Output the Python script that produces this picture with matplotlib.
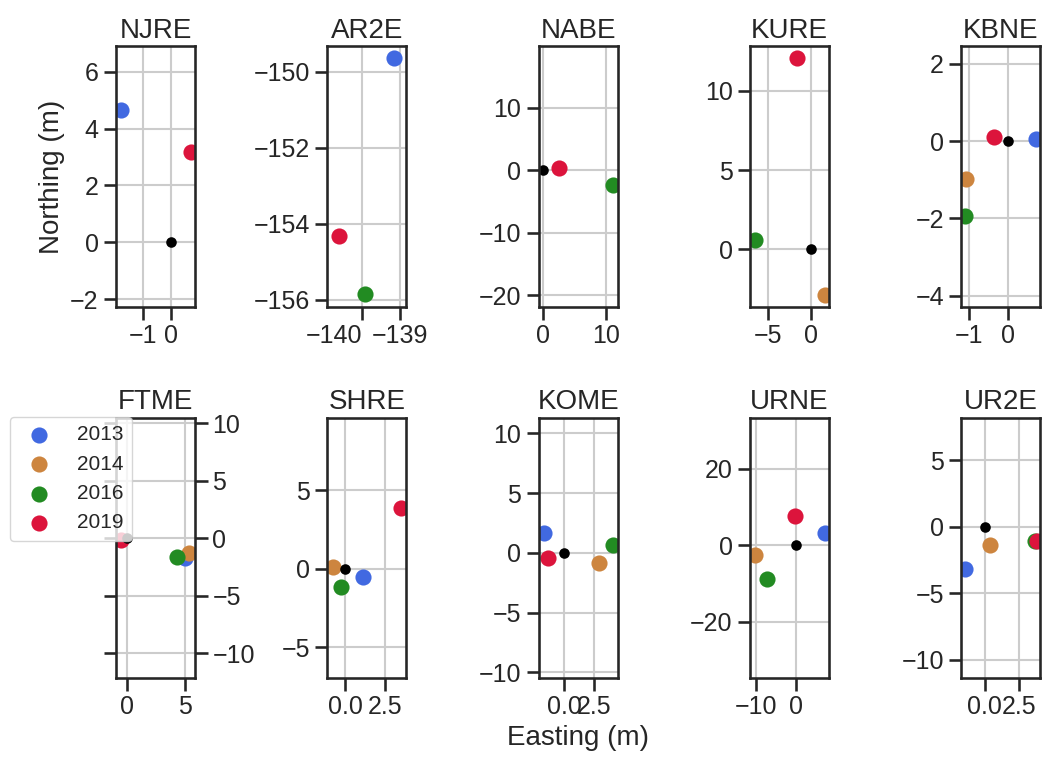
import numpy as np
import matplotlib
matplotlib.use('Agg')
import matplotlib.pyplot as plt

nan = np.nan

stations = ['NJRE', 'AR2E', 'NABE', 'KURE', 'KBNE',
            'FTME', 'SHRE', 'KOME', 'URNE', 'UR2E']
years = ['2013', '2014', '2016', '2019']
year_colors = ['royalblue', 'peru', 'forestgreen', 'crimson']

# easting / northing offsets (m) per year, one value per station
east_2013 = [-1.78, -139.15, nan, nan, 0.71, 5.04, 1.08, -1.71, 7.36, -1.42]
north_2013 = [4.66, -149.65, nan, nan, 0.04, -1.73, -0.49, 1.65, 3.13, -3.20]
east_2014 = [nan, nan, nan, 1.62, -1.06, 5.42, -0.78, 2.98, -10.4, 0.40]
north_2014 = [nan, nan, nan, -2.85, -0.98, -1.30, 0.15, -0.81, -2.53, -1.35]
east_2016 = [nan, -139.93, 11.1, -6.5, -1.10, 4.35, -0.30, 4.11, -7.4, 3.72]
north_2016 = [nan, -155.86, -2.39, 0.61, -1.95, -1.60, -1.17, 0.67, -8.88, -1.10]
east_2019 = [0.70, -140.60, 2.6, -1.55, -0.36, -0.55, 3.5, -1.32, -0.17, 3.83]
north_2019 = [3.17, -154.33, 0.27, 12.04, 0.10, -0.15, 3.87, -0.44, 7.73, -1.10]

# reference position (black dot), missing for AR2E
ref_east = [0, nan, 0, 0, 0, 0, 0, 0, 0, 0]
ref_north = [0, nan, 0, 0, 0, 0, 0, 0, 0, 0]

east = [east_2013, east_2014, east_2016, east_2019]
north = [north_2013, north_2014, north_2016, north_2019]

# axis ranges and ticks per panel
xlims = [(-1.94, 0.85), (-140.91, -138.84), (-0.70, 11.85), (-7.1, 2.14), (-1.19, 0.81),
         (-0.96, 5.91), (-1.14, 3.82), (-2.14, 4.53), (-11.6, 8.45), (-1.71, 4.08)]
ylims = [(-2.26, 6.90), (-156.18, -149.33), (-21.8, 19.8), (-3.6, 12.81), (-4.28, 2.45),
         (-12.14, 10.46), (-6.96, 9.64), (-10.48, 11.31), (-34.7, 33.3), (-11.37, 8.18)]
xticks = [[-1, 0], [-140, -139], [0, 10], [-5, 0], [-1, 0],
          [0, 5], [0.0, 2.5], [0.0, 2.5], [-10, 0], [0.0, 2.5]]
yticks = [[-2, 0, 2, 4, 6], [-156, -154, -152, -150], [-20, -10, 0, 10], [0, 5, 10], [-4, -2, 0, 2],
          [-10, -5, 0, 5, 10], [-5, 0, 5], [-10, -5, 0, 5, 10], [-20, 0, 20], [-10, -5, 0, 5]]

dark = '#262626'
plt.rcParams.update({
    'font.family': ['Liberation Sans', 'DejaVu Sans'],
    'text.color': dark,
    'axes.labelcolor': dark,
    'axes.edgecolor': dark,
    'axes.linewidth': 1.875,
    'axes.titlesize': 20,
    'axes.labelsize': 20,
    'axes.axisbelow': True,
    'xtick.labelsize': 18,
    'ytick.labelsize': 18,
    'xtick.color': dark,
    'ytick.color': dark,
    'xtick.major.size': 9,
    'ytick.major.size': 9,
    'xtick.major.width': 1.875,
    'ytick.major.width': 1.875,
    'grid.color': '#cccccc',
    'grid.linewidth': 1.5,
})

fig, axes = plt.subplots(2, 5, figsize=(10.45, 7.58), dpi=100)
fig.subplots_adjust(left=0.111, right=0.9955, bottom=0.1055, top=0.939,
                    wspace=1.675, hspace=0.427)

handles = None
for i, ax in enumerate(axes.flat):
    hs = []
    for k in range(len(years)):
        h = ax.scatter([east[k][i]], [north[k][i]], s=135, color=year_colors[k],
                       label=years[k], linewidths=0)
        hs.append(h)
    ax.scatter([ref_east[i]], [ref_north[i]], s=58, color='black', linewidths=0)
    ax.set_xlim(xlims[i])
    ax.set_ylim(ylims[i])
    ax.set_xticks(xticks[i])
    ax.set_yticks(yticks[i])
    ax.grid(True)
    ax.set_title(stations[i])
    if stations[i] == 'FTME':
        handles = hs

axes[0, 0].set_ylabel('Northing (m)')
axes[1, 2].set_xlabel('Easting (m)')

# AR2E: first easting label sits left of its tick
axes[0, 1].get_xticklabels()[0].set_horizontalalignment('right')

# FTME has its tick labels on the right
ftme = axes[1, 0]
ftme.tick_params(axis='y', left=True, right=True, labelleft=False, labelright=True)

ftme.legend(handles=handles, labels=years, loc='upper left', fontsize=15,
            bbox_to_anchor=(0.0096, 0.45), bbox_transform=fig.transFigure,
            borderaxespad=0)

plt.savefig('out.png', dpi=100)
